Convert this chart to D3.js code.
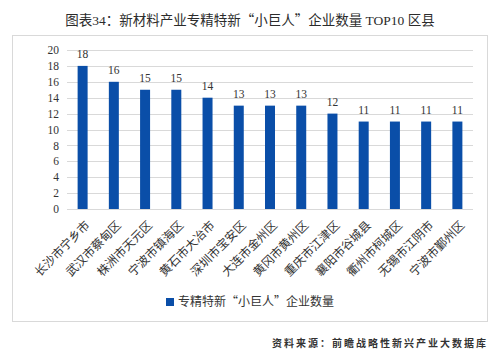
<!DOCTYPE html>
<html>
<head>
<meta charset="utf-8">
<script src="https://cdn.jsdelivr.net/npm/d3@7"></script>
<style>
  body { margin: 0; background: #fff; }
  svg { display: block; }
  .serif { font-family: "Liberation Serif", "Times New Roman", serif; }
  .cjk { font-family: "Liberation Serif", "Noto Sans CJK SC", serif; }
  .wide { font-family: "Noto Sans CJK SC", sans-serif; }
</style>
</head>
<body>
<svg id="chart" width="496" height="359"></svg>
<script>
var categories = ["长沙市宁乡市", "武汉市蔡甸区", "株洲市天元区", "宁波市镇海区", "黄石市大冶市",
  "深圳市宝安区", "大连市金州区", "黄冈市黄州区", "重庆市江津区", "襄阳市谷城县",
  "衢州市柯城区", "无锡市江阴市", "宁波市鄞州区"];
var counts = [18, 16, 15, 15, 14, 13, 13, 13, 12, 11, 11, 11, 11];
var yTicks = [0, 2, 4, 6, 8, 10, 12, 14, 16, 18, 20];
var seriesName = "专精特新“小巨人”企业数量";
var title = "图表34：新材料产业专精特新“小巨人”企业数量 TOP10 区县";
var source = "资料来源：前瞻战略性新兴产业大数据库";

var svg = d3.select("#chart");
var barColor = "#0a4ea8";
var gridColor = "#d9d9d9";

// curly quotes drawn with the CJK font so they get full width
function fillText(sel, str) {
  str.split(/([“”])/).forEach(function(part) {
    if (!part) return;
    var t = sel.append("tspan").text(part);
    if (part === "“" || part === "”") t.attr("class", "wide");
  });
}

// title
var titleText = svg.append("text")
  .attr("class", "cjk")
  .attr("x", 250).attr("y", 25)
  .attr("text-anchor", "middle")
  .attr("font-size", 13.5)
  .attr("fill", "#2b2b2b");
fillText(titleText, title);

// chart frame
svg.append("rect")
  .attr("x", 12.5).attr("y", 35.5)
  .attr("width", 475).attr("height", 286)
  .attr("fill", "none")
  .attr("stroke", gridColor);

var margin = {left: 67, right: 473, top: 50, bottom: 209};

var x = d3.scaleBand()
  .domain(categories)
  .range([margin.left, margin.right])
  .paddingInner(0.68)
  .paddingOuter(0.34);

var y = d3.scaleLinear()
  .domain([0, 20])
  .range([margin.bottom, margin.top]);

// grid
svg.append("g")
  .selectAll("line")
  .data(yTicks)
  .join("line")
    .attr("x1", margin.left).attr("x2", margin.right)
    .attr("y1", d => Math.round(y(d)) + 0.5)
    .attr("y2", d => Math.round(y(d)) + 0.5)
    .attr("stroke", gridColor);

// y axis labels
var yAxis = svg.append("g")
  .attr("transform", "translate(" + margin.left + ",0)")
  .call(d3.axisLeft(y).tickValues(yTicks).tickSize(0).tickPadding(8));
yAxis.select(".domain").remove();
yAxis.selectAll("text")
  .attr("class", "serif")
  .attr("font-size", 11.5)
  .attr("fill", "#333");

// bars
svg.append("g")
  .selectAll("rect")
  .data(counts)
  .join("rect")
    .attr("x", (d, i) => x(categories[i]))
    .attr("y", d => y(d))
    .attr("width", x.bandwidth())
    .attr("height", d => y(0) - y(d))
    .attr("fill", barColor);

// value labels
svg.append("g")
  .selectAll("text")
  .data(counts)
  .join("text")
    .attr("class", "serif")
    .attr("x", (d, i) => x(categories[i]) + x.bandwidth() / 2)
    .attr("y", d => y(d) - 8)
    .attr("text-anchor", "middle")
    .attr("font-size", 11.5)
    .attr("fill", "#333")
    .text(d => d);

// category labels, rotated
svg.append("g")
  .selectAll("text")
  .data(categories)
  .join("text")
    .attr("class", "cjk")
    .attr("transform", d => "translate(" + (x(d) + x.bandwidth() / 2 + 5) + ",223) rotate(-45)")
    .attr("text-anchor", "end")
    .attr("dy", "0.35em")
    .attr("font-size", 12)
    .attr("fill", "#333")
    .text(d => d);

// legend
var legend = svg.append("g").attr("transform", "translate(166,298)");
legend.append("rect")
  .attr("width", 8).attr("height", 8)
  .attr("fill", barColor);
var legendText = legend.append("text")
  .attr("class", "cjk")
  .attr("x", 12).attr("y", 4)
  .attr("dy", "0.35em")
  .attr("font-size", 12)
  .attr("fill", "#333");
fillText(legendText, seriesName);

// source
svg.append("text")
  .attr("class", "cjk")
  .attr("x", 488).attr("y", 347)
  .attr("text-anchor", "end")
  .attr("font-size", 10)
  .attr("font-weight", "bold")
  .attr("letter-spacing", 2)
  .attr("fill", "#333")
  .text(source);
</script>
</body>
</html>
